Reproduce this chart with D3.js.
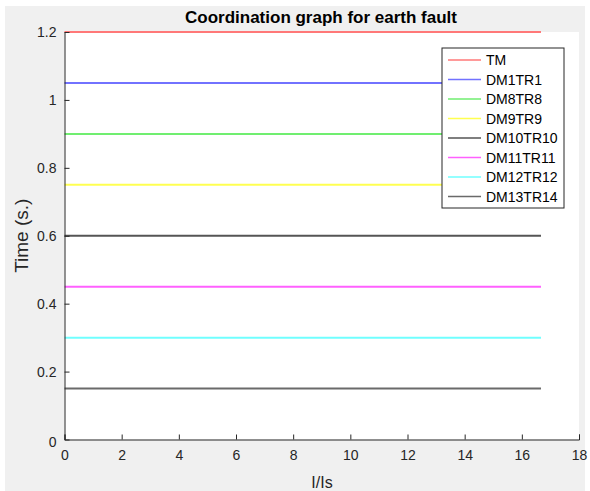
<!DOCTYPE html>
<html>
<head>
<meta charset="utf-8">
<script src="https://cdn.jsdelivr.net/npm/d3@7"></script>
<style>
  body { margin: 0; background: #fff; }
  text { font-family: "Liberation Sans", Arial, sans-serif; }
</style>
</head>
<body>
<svg id="chart"></svg>
<script>
// series data: each relay curve is a flat line over I/Is
const names = ['TM', 'DM1TR1', 'DM8TR8', 'DM9TR9', 'DM10TR10', 'DM11TR11', 'DM12TR12', 'DM13TR14'];
const times = [1.2, 1.05, 0.9, 0.75, 0.6, 0.45, 0.3, 0.15];
const colors = ['#ff7878', '#7272ff', '#70ee70', '#ffff50', '#555555', '#ff60ff', '#70ffff', '#6a6a6a'];
const xRange = [0, 16.67];
const xTicks = [0, 2, 4, 6, 8, 10, 12, 14, 16, 18];
const yTicks = [0, 0.2, 0.4, 0.6, 0.8, 1, 1.2];

const W = 590, H = 491;
const m = { left: 64.5, top: 32, right: 579, bottom: 439.5 };

const svg = d3.select('#chart').attr('width', W).attr('height', H);

// figure background
svg.append('rect').attr('x', 5).attr('y', 6).attr('width', 580).attr('height', 485).attr('fill', '#f0f0f0');
svg.append('rect').attr('x', m.left).attr('y', m.top)
  .attr('width', m.right - m.left).attr('height', m.bottom - m.top).attr('fill', '#fff');

const x = d3.scaleLinear().domain([0, 18]).range([m.left, m.right]);
const y = d3.scaleLinear().domain([0, 1.2]).range([m.bottom, m.top]);

// lines
const line = d3.line().x(d => x(d[0])).y(d => y(d[1]));
names.forEach((n, i) => {
  svg.append('path')
    .datum(xRange.map(v => [v, times[i]]))
    .attr('d', line)
    .attr('fill', 'none')
    .attr('stroke', colors[i])
    .attr('stroke-width', 2);
});

// axes (MATLAB-style inward ticks)
const xAxis = svg.append('g').attr('transform', `translate(0,${m.bottom})`)
  .call(d3.axisBottom(x).tickValues(xTicks).tickSizeInner(-5).tickSizeOuter(-5).tickPadding(11));
const yAxis = svg.append('g').attr('transform', `translate(${m.left},0)`)
  .call(d3.axisLeft(y).tickValues(yTicks).tickFormat(d3.format('~g')).tickSizeInner(-5).tickSizeOuter(0).tickPadding(8));

[xAxis, yAxis].forEach(a => {
  a.select('.domain').attr('stroke', '#262626').attr('stroke-width', 1);
  a.selectAll('.tick line').attr('stroke', '#262626');
  a.selectAll('.tick text').attr('fill', '#262626').style('font-size', '14px');
});
yAxis.selectAll('.tick text').filter(d => d === 0).attr('dy', '0.5em');

// title and labels
svg.append('text').attr('x', 321).attr('y', 23).attr('text-anchor', 'middle')
  .style('font-size', '17px').style('font-weight', 'bold').attr('fill', '#000')
  .text('Coordination graph for earth fault');
svg.append('text').attr('x', 322).attr('y', 488).attr('text-anchor', 'middle')
  .style('font-size', '16px').attr('fill', '#262626').text('I/Is');
svg.append('text').attr('transform', `translate(28,${(m.top + m.bottom) / 2}) rotate(-90)`)
  .attr('text-anchor', 'middle').style('font-size', '19px').attr('fill', '#262626').text('Time (s.)');

// legend
const lg = svg.append('g').attr('transform', 'translate(442,48)');
lg.append('rect').attr('width', 122).attr('height', 160)
  .attr('fill', '#fff').attr('stroke', '#262626').attr('stroke-width', 1);
names.forEach((n, i) => {
  const yy = 12 + i * 19.5;
  lg.append('line').attr('x1', 6).attr('x2', 39).attr('y1', yy).attr('y2', yy)
    .attr('stroke', colors[i]).attr('stroke-width', 1.5);
  lg.append('text').attr('x', 44).attr('y', yy + 5)
    .style('font-size', '14px').attr('fill', '#000').text(n);
});
</script>
</body>
</html>
